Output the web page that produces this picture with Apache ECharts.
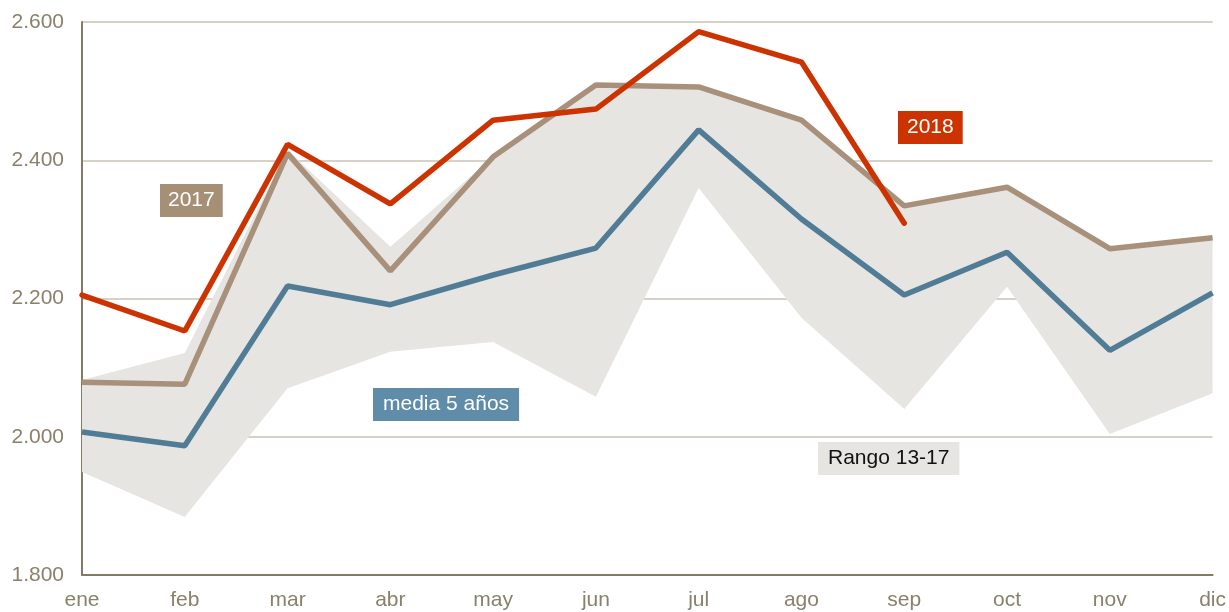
<!DOCTYPE html>
<html>
<head>
<meta charset="utf-8">
<script src="https://cdn.jsdelivr.net/npm/echarts@6/dist/echarts.min.js"></script>
<style>
  html, body { margin: 0; padding: 0; background: #fff; }
  #chart { width: 1229px; height: 612px; }
</style>
</head>
<body>
<div id="chart"></div>
<script>
// months on the x axis
const months = ['ene', 'feb', 'mar', 'abr', 'may', 'jun', 'jul', 'ago', 'sep', 'oct', 'nov', 'dic']

// values
const y2018 = [2205, 2153, 2423, 2337, 2458, 2474, 2586, 2542, 2309, null, null, null]
const y2017 = [2079, 2076, 2410, 2240, 2405, 2509, 2506, 2458, 2334, 2361, 2272, 2288]
const media5 = [2007, 1987, 2218, 2191, 2234, 2273, 2444, 2315, 2205, 2267, 2125, 2208]
const rangoLow = [1949, 1884, 2070, 2123, 2137, 2058, 2360, 2172, 2040, 2217, 2004, 2063]
const rangoHigh = [2082, 2121, 2415, 2275, 2405, 2509, 2506, 2458, 2334, 2361, 2272, 2288]

const rangoDiff = rangoHigh.map((v, i) => v - rangoLow[i])

const txt = '#8a806b'
const font = 'Liberation Sans, Arial, sans-serif'

const myChart = echarts.init(document.getElementById('chart'))

myChart.setOption({
  animation: false,
  grid: { left: 82, right: 16, top: 22, bottom: 37 },
  xAxis: {
    type: 'category',
    data: months,
    boundaryGap: false,
    axisLine: { lineStyle: { color: '#857a65', width: 2 } },
    axisTick: { show: false },
    axisLabel: { color: txt, fontSize: 21, fontFamily: font, margin: 15 }
  },
  yAxis: {
    type: 'value',
    min: 1800,
    max: 2600,
    interval: 200,
    axisLine: { show: true, lineStyle: { color: '#857a65', width: 2 } },
    axisTick: { show: false },
    splitLine: { lineStyle: { color: '#c9c3b6', width: 1.5 } },
    axisLabel: {
      color: txt, fontSize: 21, fontFamily: font, margin: 18,
      formatter: v => (v / 1000).toFixed(3)
    }
  },
  series: [
    {
      name: 'rangoLow',
      type: 'line',
      stack: 'rango',
      data: rangoLow,
      symbol: 'none',
      lineStyle: { opacity: 0 },
      silent: true
    },
    {
      name: 'Rango 13-17',
      type: 'line',
      stack: 'rango',
      data: rangoDiff,
      symbol: 'none',
      lineStyle: { opacity: 0 },
      areaStyle: { color: '#e6e5e1', opacity: 1 },
      silent: true
    },
    {
      name: 'media 5 años',
      type: 'line',
      data: media5,
      symbol: 'none',
      lineStyle: { color: '#517c96', width: 5.5 }
    },
    {
      name: '2017',
      type: 'line',
      data: y2017,
      symbol: 'none',
      lineStyle: { color: '#a8907a', width: 5.5 }
    },
    {
      name: '2018',
      type: 'line',
      data: y2018,
      symbol: 'none',
      lineStyle: { color: '#cc3300', width: 5.5, cap: 'round' }
    }
  ],
  graphic: [
    {
      type: 'text', left: 160, top: 184,
      style: { text: '2017', fill: '#fff', font: '21px ' + font, backgroundColor: '#a58f75', padding: [6, 8, 6, 8] }
    },
    {
      type: 'text', left: 898, top: 111,
      style: { text: '2018', fill: '#fff', font: '21px ' + font, backgroundColor: '#cc3300', padding: [6, 9, 6, 9] }
    },
    {
      type: 'text', left: 373, top: 388,
      style: { text: 'media 5 años', fill: '#fff', font: '21px ' + font, backgroundColor: '#5e8ca9', padding: [6, 10, 6, 10] }
    },
    {
      type: 'text', left: 818, top: 442,
      style: { text: 'Rango 13-17', fill: '#111', font: '21px ' + font, backgroundColor: '#e6e5e1', padding: [6, 10, 6, 10] }
    }
  ]
})
</script>
</body>
</html>
